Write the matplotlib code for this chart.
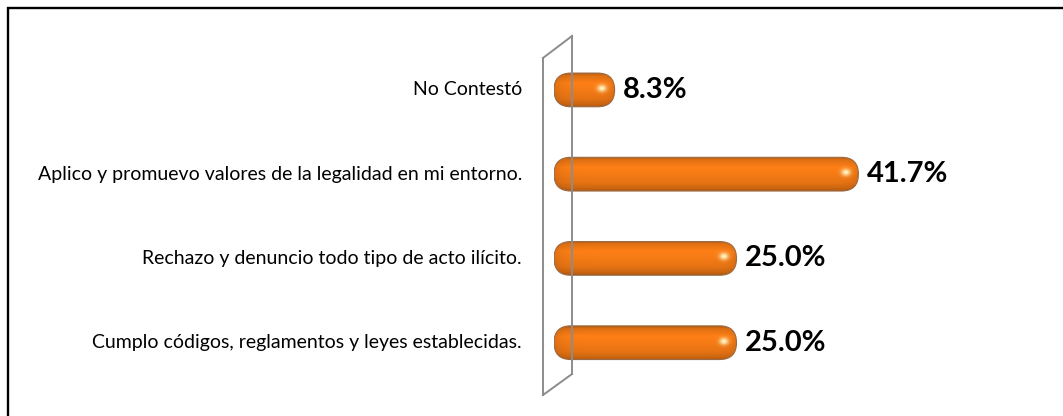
import numpy as np
import matplotlib
matplotlib.use("Agg")
import matplotlib.pyplot as plt
from matplotlib.patches import FancyBboxPatch, Rectangle
from matplotlib.lines import Line2D

categories = [
    "No Contestó",
    "Aplico y promuevo valores de la legalidad en mi entorno.",
    "Rechazo y denuncio todo tipo de acto ilícito.",
    "Cumplo códigos, reglamentos y leyes establecidas.",
]
values = [8.3, 41.7, 25.0, 25.0]
value_labels = ["8.3%", "41.7%", "25.0%", "25.0%"]

W, H = 1063, 416
fig = plt.figure(figsize=(W / 100, H / 100), dpi=100)
fig.patch.set_facecolor("white")

# outer frame (open at right/bottom like the reference crop)
fig.add_artist(Rectangle((7.5 / W, -0.1), 1.2, (H - 7.5) / H + 0.1,
                         transform=fig.transFigure, fill=False,
                         edgecolor="black", linewidth=1.7))

ax_left_px, ax_w_px = 554, 365
ax_top_px, ax_h_px = 47.8, 337
ax = fig.add_axes([ax_left_px / W, (H - ax_top_px - ax_h_px) / H, ax_w_px / W, ax_h_px / H])
ax.set_xlim(0, 50)
ax.set_ylim(3.5, -0.5)
ax.axis("off")

# 3D wall (decoration) in figure pixel coords
def fig_line(x0, y0, x1, y1, z):
    fig.add_artist(Line2D([x0 / W, x1 / W], [(H - y0) / H, (H - y1) / H],
                          transform=fig.transFigure, color="#8c8c8c",
                          linewidth=1.4, zorder=z))

fig_line(572, 36, 572, 374, 0.5)
fig_line(543, 58, 543, 395, 0.5)
fig_line(543, 58, 572, 36, 0.5)
fig_line(543, 395, 572, 374, 0.5)

bar_h = 0.40
bars = ax.barh(range(len(values)), values, height=bar_h, color="none", edgecolor="none")

xpp = 50 / ax_w_px
ypp = 4 / ax_h_px
aspect = ypp / xpp
rad_px = bar_h / ypp / 2


def bar_image(w_px, h_px):
    h = int(round(h_px)) * 2
    w = int(round(w_px)) * 2
    v = (np.arange(h) + 0.5) / h
    u = (np.arange(w) + 0.5) / w
    # vertical cylinder shading
    prof = np.interp(v, [0.0, 0.08, 0.3, 0.5, 0.75, 0.92, 1.0],
                     [0.75, 0.95, 1.08, 1.04, 0.98, 0.86, 0.74])
    base = np.array([236, 118, 20]) / 255.0
    img = np.ones((h, w, 3)) * base
    img = img * prof[:, None, None]
    # darken ends slightly
    xpx = u * w_px
    endfac = 1 - 0.12 * np.exp(-xpx / 8.0) - 0.10 * np.exp(-(w_px - xpx) / 6.0)
    img = img * endfac[None, :, None]
    # highlight near right end
    hx = w_px - 13
    hy = h_px * 0.45
    X, Y = np.meshgrid(xpx, v * h_px)
    g = np.exp(-(((X - hx) / 4.5) ** 2 + ((Y - hy) / 3.5) ** 2))
    hl = np.array([1.0, 0.98, 0.78])
    img = img * (1 - g[..., None]) + hl * g[..., None]
    return np.clip(img, 0, 1)


for b, lab in zip(bars, value_labels):
    x0, y0 = b.get_x(), b.get_y()
    w, h = b.get_width(), b.get_height()
    patch = FancyBboxPatch((x0, y0), w, h,
                           boxstyle=f"round,pad=0,rounding_size={rad_px * xpp}",
                           mutation_aspect=aspect, facecolor="none",
                           edgecolor="#9a6a45", linewidth=0.8, zorder=3)
    ax.add_patch(patch)
    img = bar_image(w / xpp, h / ypp)
    im = ax.imshow(img, extent=(x0, x0 + w, y0 + h, y0), aspect="auto",
                   interpolation="bilinear", zorder=2)
    im.set_clip_path(patch)
    ax.annotate(lab, xy=(x0 + w, y0 + h / 2), xytext=(6, 0), textcoords="offset points",
                ha="left", va="center", fontsize=21, fontweight="bold",
                family="Lato", color="black")

ax.set_xlim(0, 50)
ax.set_ylim(3.5, -0.5)

for i, c in enumerate(categories):
    ax.annotate(c, xy=(0, i), xycoords="data", xytext=(-32 / 100 * 72, 0),
                textcoords="offset points", ha="right", va="center",
                fontsize=14, family="Lato", color="black")

fig.savefig("out.png", dpi=100, facecolor="white")
